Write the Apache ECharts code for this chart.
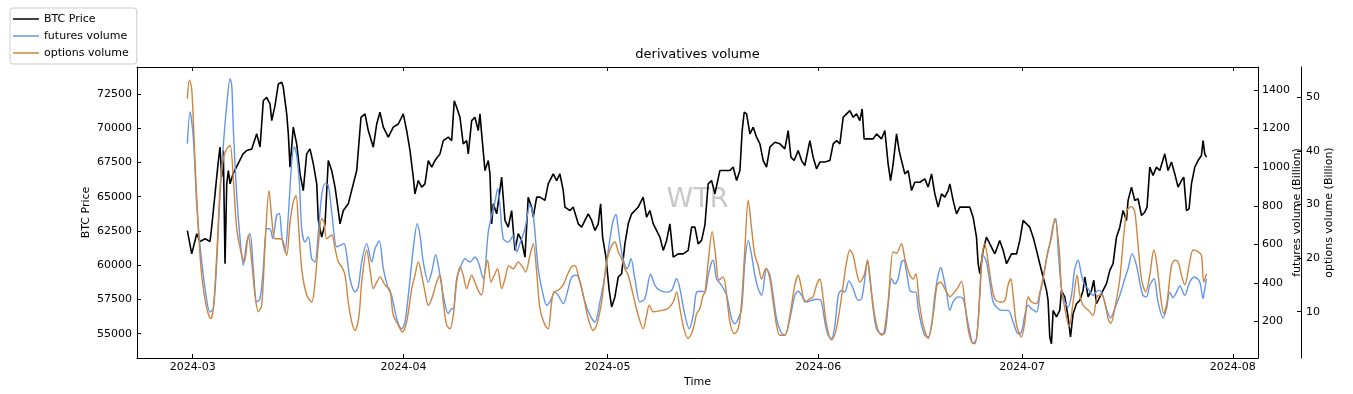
<!DOCTYPE html>
<html>
<head>
<meta charset="utf-8">
<script src="https://cdn.jsdelivr.net/npm/echarts@6/dist/echarts.min.js"></script>
<style>html,body{margin:0;padding:0;background:#fff}#c{width:1353px;height:394px}</style>
</head>
<body>
<div id="c"></div>
<script>
// x values: days since 2024-03-01 00:00
const monthDays = [0, 31, 61, 92, 122, 153];
const monthLabels = ['2024-03', '2024-04', '2024-05', '2024-06', '2024-07', '2024-08'];
const priceTicks = [55000, 57500, 60000, 62500, 65000, 67500, 70000, 72500];
const futTicks = [200, 400, 600, 800, 1000, 1200, 1400];
const optTicks = [10, 20, 30, 40, 50];

const btcDays = [-0.79,-0.15,0.59,1.07,1.81,2.54,2.79,3.28,3.72,4.01,
4.26,4.50,4.75,5.00,5.24,5.49,5.93,6.66,7.40,7.94,
8.68,9.41,9.90,10.38,10.88,11.37,11.62,12.10,12.59,13.09,
13.32,13.82,14.06,14.31,14.79,15.29,15.78,16.26,16.76,17.25,
17.74,18.24,18.47,18.97,19.46,19.94,20.44,20.93,21.41,21.66,
22.15,22.88,23.62,24.12,24.75,25.34,25.82,26.56,27.06,27.54,
28.03,28.76,29.50,30.24,30.97,31.47,31.96,32.44,32.69,33.18,
33.68,34.16,34.65,35.15,35.63,36.37,36.85,37.59,38.09,38.47,
38.82,39.31,39.79,40.29,40.53,41.03,41.51,42.00,42.25,42.50,
42.99,43.47,43.72,43.97,44.21,44.71,45.44,45.93,46.41,46.91,
47.40,47.88,48.38,48.87,49.35,49.85,50.09,50.59,51.07,51.81,
52.29,53.03,53.53,54.01,54.50,54.75,55.49,55.97,56.71,57.21,
57.69,58.18,58.68,59.16,59.65,60.00,60.29,60.78,61.26,61.62,
62.10,62.59,63.09,63.57,64.06,64.56,65.04,65.53,66.26,66.76,
67.25,67.74,68.24,68.72,69.21,69.71,70.19,70.68,71.41,72.15,
72.88,73.38,73.87,74.35,74.85,75.34,75.82,76.32,76.81,77.54,
78.28,79.01,79.50,80.00,80.49,80.82,81.12,81.47,81.96,82.44,
82.94,83.43,83.91,84.41,84.90,85.63,86.37,87.10,87.59,87.99,
88.47,89.06,89.56,90.04,90.78,91.26,91.76,92.25,92.99,93.72,
94.21,94.71,95.19,95.68,96.18,96.66,97.15,97.65,98.13,98.47,
98.76,99.35,100.09,100.59,101.32,101.81,102.29,102.65,103.03,103.53,
103.91,104.26,104.75,105.24,105.74,106.22,106.96,107.69,108.18,108.68,
109.16,109.65,110.15,110.63,111.12,111.37,111.85,112.35,112.84,113.57,
114.31,114.79,115.29,115.53,115.78,116.26,116.76,117.25,117.99,118.72,
119.21,119.71,120.44,121.18,121.66,122.15,122.65,123.13,123.62,124.12,
124.60,125.09,125.59,125.82,126.07,126.32,126.56,126.81,127.06,127.29,
127.54,127.79,128.28,128.76,129.12,129.50,130.00,130.49,130.97,131.22,
131.71,132.21,132.54,132.94,133.43,133.91,134.41,134.90,135.38,135.88,
136.37,136.85,137.35,137.59,138.09,138.57,139.06,139.56,140.04,140.38,
140.78,141.26,141.76,142.25,142.99,143.47,143.97,144.46,144.94,145.44,
145.78,146.18,146.56,146.91,147.40,147.88,148.38,148.62,148.87,149.12];

const btcPrice = [62530,60830,62300,61730,61930,61730,62800,65210,67400,68630,
66450,68370,60110,65940,66910,65940,66670,67400,68130,68370,
68490,69590,68630,72010,72260,71770,70560,71650,73230,73360,
72990,71050,69590,67160,70080,68860,66670,65450,68130,68490,
67400,65940,63270,62050,63020,67640,66910,65700,63990,63020,
63990,64480,65940,66910,70800,71050,69830,68620,70310,71170,
70080,69350,70080,70310,71050,69830,68370,66430,65210,66180,
65700,65940,67640,67160,67640,68130,69100,69350,69100,72010,
71530,70800,68860,69100,68130,70560,70800,69830,71050,69590,
66910,67640,66670,63020,64480,63750,66430,63270,62780,63990,
61080,62300,61810,60590,64970,64240,63510,64970,64970,64730,
65940,66670,66180,66670,65450,64240,63990,64240,63020,62780,
63270,63750,63270,62530,63020,64480,62050,60590,58160,56950,
57680,59140,59380,61560,63020,63750,63990,64240,64970,63510,
63990,63020,62530,62050,61080,61810,63020,60590,60830,60830,
61080,62780,62780,61560,61810,62930,65940,66180,65210,66910,
66910,66910,67160,66180,66910,69830,71170,71050,69590,70080,
69350,68860,67640,67160,68620,68980,68860,68490,69830,67890,
67640,68370,67640,67280,69100,67890,67040,67530,67530,67640,
68860,69100,68860,70800,71050,71290,70800,71050,70560,71410,
69220,69220,69220,69590,69220,69830,67400,66180,67400,69590,
68370,67640,66670,66910,65450,66060,66060,66300,65700,66670,
65210,64240,65210,64970,65450,65940,64730,63750,64240,64240,
64240,63510,62050,60110,59380,61080,62050,61560,60830,61810,
61080,60110,60830,60830,61810,63270,63020,62780,62050,61080,
60110,59140,58160,57430,54760,54270,56700,56460,56220,56460,
56700,58160,57680,56220,54760,56460,57190,57430,58160,59140,
57680,58160,58900,57190,57680,58160,58650,59620,60110,62050,
62780,63990,63270,64730,65700,64730,64850,63630,63870,64240,
67160,66550,67160,66910,68130,66910,67530,66670,65700,66180,
66430,63990,64110,65940,67160,67640,68010,69100,68130,67890];

const futDays = [-0.79,-0.40,0.09,0.59,1.07,1.81,2.54,3.03,3.53,4.01,
4.50,5.00,5.49,5.74,5.97,6.47,6.96,7.44,7.94,8.43,
8.91,9.41,9.90,10.38,10.88,11.37,11.76,12.35,12.74,13.09,
13.57,14.06,14.56,14.94,15.29,15.68,16.03,16.51,17.00,17.50,
17.99,18.47,18.97,19.46,19.94,20.44,21.18,21.66,22.25,22.65,
23.13,23.87,24.35,24.85,25.59,26.32,26.81,27.44,28.03,28.76,
29.26,30.00,30.74,31.22,31.71,32.44,33.03,33.43,33.91,34.65,
35.15,35.74,36.12,36.85,37.59,38.09,38.32,38.82,39.31,40.04,
40.78,41.51,42.00,42.74,43.47,43.97,44.46,44.85,45.19,45.68,
46.41,47.15,47.65,48.13,48.87,49.60,50.09,50.82,51.56,52.06,
52.54,53.28,53.76,54.50,55.24,55.74,56.47,56.96,57.69,58.43,
59.16,59.90,60.63,61.37,61.85,62.25,62.59,63.09,63.57,63.91,
64.46,65.04,65.78,66.51,67.35,67.99,68.72,69.71,70.44,71.18,
71.66,72.40,73.03,73.62,74.12,74.85,75.34,75.82,76.32,76.56,
77.06,77.79,78.53,79.26,79.75,80.24,80.74,81.22,81.71,82.21,
82.69,83.18,83.68,84.41,84.90,85.38,85.88,86.51,87.10,87.84,
88.57,89.06,89.56,90.29,91.03,91.76,92.40,92.99,93.47,93.97,
94.46,94.96,95.44,95.93,96.51,97.15,97.88,98.38,98.87,99.26,
99.60,100.09,100.59,101.32,101.81,102.29,102.79,103.28,103.76,104.26,
104.60,105.00,105.49,105.97,106.37,106.71,107.21,107.69,108.18,108.68,
109.16,109.65,110.04,110.38,110.88,111.37,111.85,112.59,113.32,113.82,
114.31,114.79,115.29,115.78,116.26,116.76,117.25,117.74,118.47,119.21,
119.94,120.68,121.41,121.91,122.40,122.88,123.38,124.12,124.60,125.09,
125.59,126.07,126.56,126.96,127.29,127.79,128.28,128.76,129.26,129.75,
130.24,130.74,131.22,131.71,132.44,133.18,133.68,134.41,135.00,135.63,
136.37,137.10,137.59,138.18,138.82,139.31,139.79,140.29,140.78,141.41,
142.00,142.74,143.24,143.72,144.21,144.71,145.19,145.93,146.66,147.40,
148.13,148.62,148.87,149.12];

const futVol = [1122,1286,1148,803,595,371,250,267,509,854,
1113,1321,1459,1424,1199,854,630,492,612,656,
474,302,319,474,681,681,630,751,760,647,
561,751,1027,1105,1062,923,681,612,638,526,
509,664,854,915,906,768,587,595,604,544,
422,353,380,509,604,509,578,618,474,371,
336,215,163,198,336,578,707,647,509,405,
457,547,492,336,241,267,267,422,474,526,
509,535,509,422,664,751,820,889,803,630,
612,647,561,604,681,803,750,474,336,285,
302,353,336,293,371,431,440,405,302,233,
198,302,440,630,725,755,681,561,492,474,
526,422,302,319,445,388,362,353,362,422,
371,233,163,233,353,357,353,440,509,518,
422,388,336,215,189,215,267,509,621,544,
440,371,336,474,440,336,215,146,129,215,
336,357,336,302,310,316,310,198,129,112,
181,336,362,353,411,371,310,319,422,518,
440,267,163,137,140,285,422,396,422,509,
518,457,362,353,353,267,181,129,120,181,
336,440,480,440,353,258,302,328,319,233,
146,86,112,336,544,509,405,302,267,258,
258,198,137,146,233,285,267,250,336,422,
526,600,699,733,578,371,302,276,336,474,
518,440,388,371,336,362,353,267,219,267,
336,422,474,552,492,405,336,328,388,422,
302,219,267,353,324,353,385,336,405,431,
405,319,371,422];

const optDays = [-0.79,-0.50,-0.15,0.34,0.82,1.32,2.06,2.65,3.03,3.53,
4.01,4.50,5.00,5.49,5.97,6.47,7.21,7.59,8.18,8.68,
9.16,9.65,10.15,10.63,11.22,11.62,12.10,12.84,13.32,13.82,
14.31,14.79,15.19,15.53,16.03,16.76,17.50,17.99,18.47,18.97,
19.31,19.71,20.44,20.93,21.41,21.91,22.40,22.88,23.38,23.87,
24.46,24.85,25.59,26.07,26.56,27.06,27.54,28.28,29.01,29.50,
30.24,30.82,31.47,32.21,32.69,33.18,33.68,34.16,34.65,35.15,
35.88,36.37,36.85,37.35,37.84,38.32,38.82,39.31,39.79,40.29,
41.03,41.51,42.10,42.50,42.99,43.38,43.87,44.35,44.85,45.44,
45.93,46.51,47.15,47.88,48.38,48.97,49.60,50.09,50.59,51.07,
51.81,52.29,52.79,53.13,53.76,54.50,55.09,55.74,56.22,56.71,
57.44,58.18,58.91,59.41,60.15,60.88,61.62,62.10,62.59,63.09,
63.57,64.06,64.79,65.53,66.26,66.76,67.15,67.74,68.47,69.21,
69.94,70.68,71.18,71.66,72.25,72.88,73.62,74.12,74.60,75.09,
75.34,75.82,76.41,76.91,77.40,78.03,78.53,79.01,79.65,80.24,
80.74,81.22,81.71,82.21,82.69,83.18,83.68,84.31,84.90,85.38,
85.88,86.37,87.10,87.84,88.57,89.06,89.56,90.04,90.78,91.26,
91.76,92.25,92.74,93.24,93.97,94.56,95.19,95.68,96.18,96.66,
97.15,97.65,98.13,98.76,99.26,99.60,100.09,100.59,101.32,101.66,
102.29,103.03,103.53,104.26,104.75,105.49,105.97,106.37,106.87,107.44,
108.18,108.91,109.50,110.04,110.63,111.37,112.10,112.59,113.09,113.57,
114.06,114.56,115.04,115.53,116.03,116.51,117.00,117.50,117.99,118.72,
119.46,119.94,120.34,120.68,121.18,121.91,122.40,122.88,123.38,124.12,
124.60,125.34,125.82,126.32,126.81,127.44,127.79,128.28,128.91,129.50,
130.09,130.49,130.97,131.71,132.44,133.03,133.68,134.16,134.65,135.04,
135.63,136.37,136.96,137.44,138.09,138.57,139.06,139.56,140.19,140.78,
141.37,141.85,142.35,142.84,143.32,143.97,144.46,144.94,145.44,145.93,
146.66,147.15,147.88,148.38,148.72,149.12];

const optVol = [49.7,53.2,51.6,37.9,25.5,16.8,10.6,8.7,10.6,20.5,
32.9,38.5,40.4,41.0,34.8,25.5,20.5,19.3,24.3,19.3,
13.1,10.0,11.2,22.4,32.6,27.4,23.6,23.6,23.0,20.5,
26.7,30.5,31.7,26.7,18.0,13.1,11.8,15.5,22.4,27.4,
26.7,23.6,24.3,21.8,19.3,18.4,16.8,11.8,8.1,6.5,
9.3,15.5,21.5,18.0,14.3,15.5,16.5,15.0,14.0,9.3,
7.5,6.2,8.1,14.3,16.8,19.3,16.8,13.7,11.2,12.4,
15.5,16.8,11.8,7.5,6.8,9.3,15.5,18.4,16.8,14.3,
16.8,15.5,13.7,13.1,17.4,19.6,15.5,16.8,18.0,14.3,
16.1,18.6,18.0,19.3,18.6,17.4,20.5,22.7,17.4,10.6,
7.5,6.8,11.8,13.7,14.0,15.0,16.8,18.4,18.6,16.8,
13.1,8.7,6.5,7.5,11.8,19.3,22.4,23.0,21.2,19.9,
18.0,16.8,13.1,9.3,6.8,9.3,11.2,10.0,10.1,10.3,
10.6,11.8,13.7,10.6,6.8,5.0,6.8,9.6,10.6,13.1,
13.5,19.3,24.9,20.5,15.9,16.5,13.1,8.1,5.9,6.8,
11.8,21.8,30.8,25.5,20.5,18.6,16.1,18.1,16.1,11.8,
7.5,5.6,5.6,9.3,15.0,16.8,14.3,11.8,12.4,12.8,
15.0,16.1,12.4,7.5,4.7,6.2,10.6,15.0,19.3,21.5,
20.5,17.4,15.5,16.8,19.6,16.1,11.2,7.5,5.6,5.9,
11.8,21.2,20.9,22.7,19.9,16.8,16.1,17.1,11.8,7.5,
5.0,9.3,15.0,15.5,14.3,12.8,13.7,14.6,15.7,11.8,
6.8,4.4,4.0,8.1,19.3,22.7,19.3,15.0,12.4,11.8,
12.1,15.0,16.1,13.1,7.5,5.3,8.1,12.8,11.8,11.5,
13.5,18.0,21.5,23.8,27.4,21.8,14.3,10.6,7.2,11.8,
16.8,13.1,11.2,10.3,9.3,12.8,13.1,11.8,8.7,7.8,
10.6,16.1,24.3,28.9,29.6,28.6,22.4,16.1,13.7,16.8,
21.5,18.6,13.1,9.6,11.8,18.6,19.6,19.3,16.8,15.0,
19.3,21.5,21.2,20.5,15.5,17.1];

const zip = (xs, ys) => xs.slice(0, Math.min(xs.length, ys.length)).map((x, i) => [x, ys[i]]);
const FONT = 'DejaVu Sans';
const lineC = {color: '#000', width: 1};
const lblStyle = {fontSize: 11, color: '#000', fontFamily: FONT};
const plain = v => String(v);

const chart = echarts.init(document.getElementById('c'), null, {renderer: 'canvas', width: 1353, height: 394});

const xBase = {
  type: 'value', min: -8.2, max: 156.7,
  axisLine: {show: true, onZero: false, lineStyle: lineC},
  axisTick: {show: true, inside: true, length: 4, customValues: monthDays, lineStyle: lineC},
  splitLine: {show: false}
};

chart.setOption({
  animation: false,
  backgroundColor: '#fff',
  textStyle: {fontFamily: FONT},
  grid: {left: 137, right: 95, top: 67, bottom: 36},
  legend: {
    orient: 'vertical', left: 10, top: 8,
    padding: [4, 8, 4, 3], itemGap: 3, itemWidth: 26, itemHeight: 1.5,
    icon: 'rect',
    backgroundColor: '#fff', borderColor: '#cccccc', borderWidth: 1, borderRadius: 3,
    textStyle: Object.assign({lineHeight: 14}, lblStyle),
    data: ['BTC Price', 'futures volume', 'options volume']
  },
  graphic: [
    {type: 'text', x: 697.5, y: 55, z: 10,
     style: {text: 'derivatives volume', font: '13px "DejaVu Sans"', fill: '#000',
             align: 'center', verticalAlign: 'middle', textAlign: 'center', textVerticalAlign: 'middle'}},
    {type: 'text', x: 697.5, y: 200, z: 0,
     style: {text: 'WTR', font: '27px "DejaVu Sans"', fill: '#c8c8c8',
             align: 'center', verticalAlign: 'middle', textAlign: 'center', textVerticalAlign: 'middle'}}
  ],
  xAxis: [
    Object.assign({}, xBase, {
      position: 'bottom',
      name: 'Time', nameLocation: 'middle', nameGap: 19, nameMoveOverlap: false, nameTextStyle: lblStyle,
      axisLabel: Object.assign({customValues: monthDays, margin: 4,
        formatter: v => monthLabels[monthDays.indexOf(Math.round(v))] || ''}, lblStyle)
    }),
    Object.assign({}, xBase, {position: 'top', axisLabel: {show: false}})
  ],
  yAxis: [
    {type: 'value', position: 'left', min: 53226, max: 74471,
     name: 'BTC Price', nameLocation: 'middle', nameGap: 45, nameMoveOverlap: false, nameTextStyle: lblStyle,
     axisLine: {show: true, onZero: false, lineStyle: lineC},
     axisTick: {show: true, inside: true, length: 4, customValues: priceTicks, lineStyle: lineC},
     axisLabel: Object.assign({customValues: priceTicks, margin: 5, formatter: plain}, lblStyle),
     splitLine: {show: false}},
    {type: 'value', position: 'right', min: 11.5, max: 1519,
     name: 'futures volume (Billion)', nameLocation: 'middle', nameGap: 34, nameMoveOverlap: false, nameTextStyle: lblStyle,
     axisLine: {show: true, onZero: false, lineStyle: lineC},
     axisTick: {show: true, inside: true, length: 4, customValues: futTicks, lineStyle: lineC},
     axisLabel: Object.assign({customValues: futTicks, margin: 4, formatter: plain}, lblStyle),
     splitLine: {show: false}},
    {type: 'value', position: 'right', offset: 43, min: 1.36, max: 55.65,
     name: 'options volume (Billion)', nameLocation: 'middle', nameGap: 23, nameMoveOverlap: false, nameTextStyle: lblStyle,
     axisLine: {show: true, onZero: false, lineStyle: lineC},
     axisTick: {show: true, inside: true, length: 4, customValues: optTicks, lineStyle: lineC},
     axisLabel: Object.assign({customValues: optTicks, margin: 5, formatter: plain}, lblStyle),
     splitLine: {show: false}}
  ],
  series: [
    {name: 'BTC Price', type: 'line', xAxisIndex: 0, yAxisIndex: 0, data: zip(btcDays, btcPrice),
     symbol: 'none', color: '#000000', lineStyle: {color: '#000000', width: 1.6}, z: 2},
    {name: 'futures volume', type: 'line', xAxisIndex: 0, yAxisIndex: 1, data: zip(futDays, futVol),
     symbol: 'none', smooth: 0.3, color: '#6495ED', lineStyle: {color: '#6495ED', width: 1.4}, z: 3},
    {name: 'options volume', type: 'line', xAxisIndex: 0, yAxisIndex: 2, data: zip(optDays, optVol),
     symbol: 'none', smooth: 0.3, color: '#CD853F', lineStyle: {color: '#CD853F', width: 1.4}, z: 4}
  ]
});
</script>
</body>
</html>
